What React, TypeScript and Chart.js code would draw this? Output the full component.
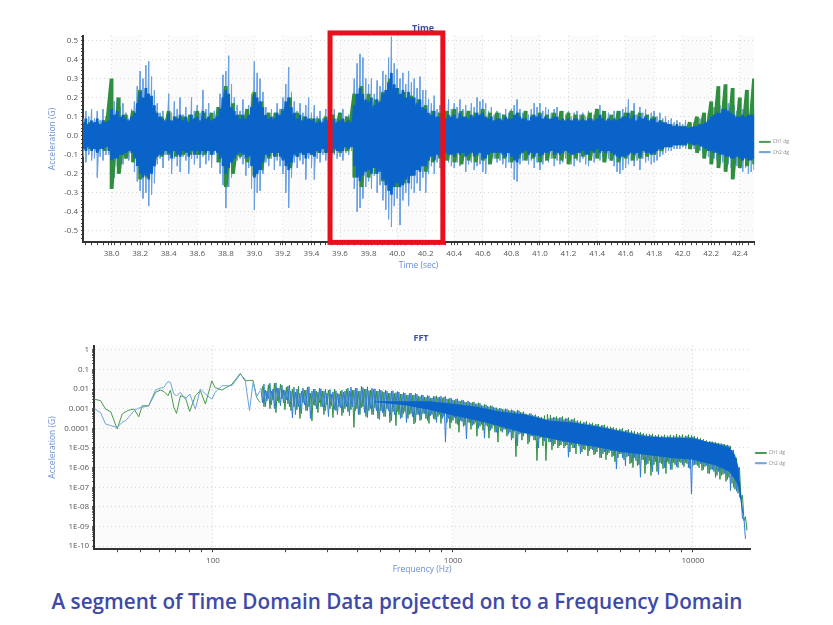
import React, { useEffect, useRef } from "react";
import { Chart, registerables } from "chart.js";

Chart.register(...registerables);

const FONT = '"Open Sans", sans-serif';
const TICK_COLOR = "#555";
const AXIS_TITLE_COLOR = "#6b8cd6";
const TITLE_COLOR = "#3d4fa8";
const GREEN = "#2f8f3f";
const LIGHT_BLUE = "#6ba2e2";
const CORE_BLUE = "#0a63c9";

// ---- Time chart ----
// one value every 0.02 s from 37.80 s
const timeStart = 37.8;
const peakStep = 0.02;
// outer spikes of Ch2
const peakHi = [
  .09,.13,.10,.14,.09,.13,.08,.14,.10,.11,
  .21,.18,.2,.15,.17,.12,.09,.14,.18,.26,
  .34,.3,.37,.39,.31,.24,.17,.12,.13,.09,
  .22,.12,.18,.14,.2,.11,.15,.1,.2,.13,
  .16,.12,.24,.14,.17,.11,.13,.15,.22,.32,
  .34,.42,.27,.2,.16,.13,.19,.12,.16,.22,
  .39,.33,.3,.23,.15,.12,.14,.12,.17,.14,
  .2,.27,.36,.23,.18,.13,.17,.12,.16,.2,
  .12,.16,.1,.13,.09,.14,.11,.12,.14,.09,
  .12,.14,.1,.11,.09,.3,.38,.43,.41,.3,
  .27,.3,.22,.29,.26,.34,.32,.41,.52,.38,
  .35,.3,.33,.27,.34,.28,.3,.25,.31,.24,
  .24,.19,.17,.21,.14,.16,.19,.13,.19,.14,
  .17,.15,.19,.14,.16,.13,.17,.15,.2,.18,
  .19,.17,.13,.15,.11,.13,.12,.11,.14,.12,
  .14,.16,.19,.14,.12,.13,.11,.14,.17,.15,
  .17,.13,.15,.14,.12,.14,.15,.12,.13,.11,
  .13,.1,.12,.13,.11,.12,.1,.13,.12,.11,
  .13,.16,.13,.11,.12,.1,.13,.11,.13,.14,
  .15,.19,.13,.17,.11,.15,.12,.14,.11,.12,
  .13,.1,.12,.09,.1,.08,.09,.07,.08,.07,
  .06,.08,.05,.06,.07,.07,.09,.08,.1,.12,
  .14,.15,.17,.16,.18,.17,.17,.15,.16,.13,
  .13,.14,.13,.15,.14,.14,
];
const peakLo = [
  -.11,-.14,-.1,-.13,-.12,-.22,-.11,-.13,-.1,-.1,
  -.2,-.22,-.16,-.19,-.15,-.12,-.13,-.1,-.19,-.24,
  -.29,-.33,-.3,-.37,-.31,-.25,-.15,-.12,-.17,-.1,
  -.13,-.2,-.12,-.16,-.19,-.11,-.13,-.2,-.12,-.15,
  -.12,-.17,-.11,-.15,-.13,-.17,-.1,-.14,-.2,-.26,
  -.38,-.27,-.22,-.16,-.13,-.12,-.15,-.21,-.17,-.28,
  -.39,-.3,-.29,-.2,-.14,-.16,-.12,-.18,-.13,-.16,
  -.2,-.3,-.38,-.22,-.14,-.17,-.13,-.15,-.23,-.12,
  -.17,-.23,-.12,-.14,-.1,-.13,-.11,-.15,-.1,-.12,
  -.11,-.13,-.09,-.1,-.08,-.28,-.4,-.38,-.33,-.27,
  -.24,-.28,-.21,-.3,-.26,-.34,-.39,-.44,-.48,-.37,
  -.33,-.47,-.34,-.3,-.37,-.28,-.3,-.25,-.29,-.22,
  -.3,-.2,-.16,-.2,-.14,-.17,-.15,-.13,-.14,-.16,
  -.17,-.14,-.16,-.13,-.19,-.15,-.14,-.18,-.16,-.15,
  -.19,-.2,-.15,-.13,-.12,-.14,-.13,-.15,-.17,-.14,
  -.17,-.23,-.24,-.15,-.13,-.12,-.15,-.13,-.17,-.14,
  -.18,-.15,-.13,-.14,-.12,-.16,-.13,-.15,-.14,-.12,
  -.13,-.15,-.16,-.13,-.14,-.12,-.15,-.16,-.12,-.14,
  -.1,-.13,-.11,-.14,-.12,-.13,-.16,-.19,-.2,-.18,
  -.17,-.15,-.13,-.16,-.13,-.18,-.12,-.14,-.13,-.15,
  -.14,-.13,-.11,-.1,-.09,-.08,-.08,-.07,-.07,-.07,
  -.06,-.07,-.05,-.06,-.07,-.06,-.08,-.09,-.1,-.11,
  -.11,-.12,-.13,-.15,-.14,-.16,-.15,-.17,-.18,-.16,
  -.17,-.19,-.17,-.2,-.19,-.18,
];
// solid dark body of Ch2
const midHi = [
  .07,.09,.06,.08,.07,.09,.06,.08,.07,.08,
  .14,.11,.13,.1,.11,.09,.08,.1,.12,.17,
  .23,.2,.25,.22,.21,.16,.12,.1,.09,.08,
  .12,.08,.1,.09,.11,.08,.1,.07,.11,.09,
  .1,.08,.13,.09,.1,.08,.09,.1,.14,.2,
  .24,.22,.15,.13,.11,.09,.11,.09,.11,.15,
  .22,.2,.18,.15,.11,.09,.1,.09,.12,.11,
  .13,.18,.2,.15,.12,.09,.11,.08,.1,.09,
  .08,.09,.07,.08,.07,.09,.08,.08,.09,.07,
  .08,.09,.07,.08,.07,.16,.22,.25,.22,.19,
  .18,.2,.16,.19,.18,.22,.24,.28,.33,.27,
  .25,.22,.24,.2,.23,.2,.2,.17,.19,.15,
  .14,.12,.11,.13,.1,.1,.12,.09,.11,.1,
  .11,.09,.12,.1,.1,.09,.11,.1,.12,.11,
  .12,.1,.09,.1,.08,.09,.09,.08,.1,.09,
  .09,.11,.12,.1,.09,.09,.08,.1,.11,.1,
  .11,.09,.1,.09,.09,.1,.1,.08,.09,.08,
  .09,.08,.09,.09,.08,.09,.08,.09,.09,.08,
  .09,.11,.09,.08,.09,.08,.09,.08,.09,.1,
  .1,.12,.09,.11,.08,.1,.09,.1,.08,.09,
  .09,.07,.08,.07,.07,.06,.06,.05,.06,.05,
  .045,.05,.04,.045,.05,.05,.06,.06,.07,.08,
  .1,.11,.12,.12,.14,.14,.13,.12,.11,.1,
  .1,.11,.1,.11,.11,.11,
];
const midLo = [
  -.07,-.08,-.06,-.08,-.07,-.09,-.07,-.07,-.06,-.08,
  -.13,-.12,-.12,-.1,-.1,-.09,-.08,-.09,-.12,-.16,
  -.2,-.22,-.21,-.23,-.2,-.16,-.11,-.1,-.1,-.08,
  -.09,-.12,-.08,-.1,-.11,-.08,-.09,-.11,-.08,-.1,
  -.08,-.1,-.08,-.09,-.08,-.1,-.08,-.09,-.12,-.16,
  -.2,-.17,-.14,-.12,-.1,-.09,-.1,-.12,-.11,-.16,
  -.22,-.2,-.18,-.14,-.1,-.11,-.09,-.11,-.09,-.11,
  -.13,-.16,-.18,-.14,-.1,-.11,-.09,-.1,-.12,-.09,
  -.1,-.11,-.08,-.09,-.07,-.09,-.08,-.09,-.07,-.08,
  -.08,-.08,-.06,-.07,-.06,-.16,-.22,-.24,-.21,-.19,
  -.18,-.2,-.17,-.2,-.19,-.23,-.26,-.29,-.31,-.27,
  -.25,-.27,-.26,-.23,-.25,-.21,-.21,-.18,-.19,-.16,
  -.16,-.13,-.11,-.13,-.1,-.11,-.1,-.09,-.1,-.1,
  -.11,-.09,-.1,-.09,-.11,-.1,-.09,-.11,-.1,-.09,
  -.12,-.12,-.1,-.09,-.09,-.09,-.09,-.1,-.11,-.09,
  -.11,-.13,-.14,-.1,-.09,-.08,-.1,-.09,-.11,-.09,
  -.11,-.1,-.09,-.09,-.08,-.1,-.09,-.1,-.09,-.08,
  -.09,-.1,-.1,-.09,-.09,-.08,-.1,-.1,-.08,-.09,
  -.07,-.09,-.08,-.09,-.08,-.09,-.1,-.11,-.12,-.11,
  -.11,-.1,-.09,-.1,-.09,-.11,-.08,-.09,-.09,-.1,
  -.09,-.08,-.07,-.07,-.06,-.06,-.06,-.05,-.05,-.05,
  -.045,-.05,-.04,-.045,-.05,-.045,-.055,-.06,-.07,-.08,
  -.08,-.09,-.09,-.1,-.1,-.11,-.11,-.12,-.12,-.11,
  -.12,-.13,-.12,-.13,-.13,-.12,
];
// Ch1, one value every 0.05 s from 37.80 s
const bandStep = 0.05;
const ch1TimeHi = [
  .07,.07,.07,.08,.3,.2,.11,.13,.24,.22,
  .13,.1,.13,.1,.1,.11,.13,.12,.12,.15,
  .26,.17,.11,.14,.23,.18,.12,.12,.14,.2,
  .12,.1,.09,.09,.1,.11,.12,.1,.22,.26,
  .22,.19,.23,.3,.25,.23,.21,.19,.16,.13,
  .12,.13,.14,.13,.13,.12,.14,.12,.12,.11,
  .13,.12,.13,.11,.12,.11,.12,.13,.12,.11,
  .11,.12,.14,.13,.11,.13,.12,.13,.12,.11,
  .1,.08,.06,.05,.05,.07,.1,.12,.18,.26,
  .27,.25,.2,.24,.3,
];
const ch1TimeLo = [
  -.07,-.07,-.08,-.08,-.28,-.2,-.12,-.14,-.23,-.22,
  -.13,-.11,-.1,-.11,-.1,-.1,-.1,-.1,-.1,-.14,
  -.27,-.2,-.11,-.14,-.21,-.18,-.12,-.11,-.12,-.17,
  -.11,-.1,-.1,-.09,-.09,-.09,-.09,-.08,-.22,-.27,
  -.22,-.2,-.24,-.29,-.27,-.25,-.21,-.18,-.19,-.14,
  -.12,-.13,-.14,-.15,-.13,-.14,-.13,-.15,-.12,-.12,
  -.14,-.12,-.13,-.12,-.14,-.13,-.12,-.13,-.15,-.12,
  -.11,-.13,-.12,-.14,-.13,-.14,-.12,-.13,-.12,-.11,
  -.1,-.08,-.06,-.05,-.05,-.07,-.09,-.12,-.15,-.17,
  -.19,-.23,-.17,-.16,-.15,
];
const timeBands = [[38.0,38.2],[38.4,38.6],[38.8,39.0],[39.2,39.4],[39.6,39.8],[40.0,40.2],[40.4,40.6],[40.8,41.0],[41.2,41.4],[41.6,41.8],[42.0,42.2],[42.4,42.5]];
const selection = { from: 39.53, to: 40.32, top: 0.54, bottom: -0.561 };

// ---- FFT chart ----
// low end, separate curves, values as log10(G)
const lowFreq = [32,34,35.7,37.5,39.9,41.9,43.3,44.7,46.9,49.1,50.7,54,57.6,60.4,62.4,65,66.5,68.7,70.5,73.2,76.7,80,84.5,88.6,93,99,102,109,120,130,136,142,147,152,157];
const ch1Low = [-2.51,-2.59,-3.02,-3.15,-4.03,-3.27,-3.15,-3.07,-3.02,-3.41,-2.85,-2.85,-2.17,-2.05,-2.12,-2.34,-2.05,-2.93,-3.24,-2.34,-2.42,-3.14,-2.34,-2.08,-2.76,-1.58,-1.92,-2.05,-1.75,-1.2,-1.58,-1.56,-1.56,-2.42,-2.68];
const ch2Low = [-3,-3.19,-3.78,-3.86,-3.95,-3.69,-3.61,-3.41,-3.1,-2.97,-2.93,-2.85,-2.05,-1.95,-1.92,-1.61,-1.66,-2.25,-2.34,-2.17,-2.51,-2.25,-3.02,-2,-2.25,-2.51,-2.17,-1.83,-1.83,-1.24,-1.49,-3.1,-1.65,-2.4,-2.1];
// dense part, log10(G), one value every 0.0125 decade from 10^2.2 Hz
const denseStartLog = 2.2;
const denseStepLog = 0.0125;
const ch1Hi = [
  -1.85,-2.05,-1.78,-2.1,-1.7,-1.95,-1.75,-2.05,-1.9,-1.8,
  -2.0,-2.15,-1.85,-2.1,-2.05,-1.9,-2.2,-2.0,-2.1,-1.95,
  -2.1,-2.0,-2.05,-2.25,-2.0,-2.2,-2.1,-2.15,-2.0,-2.1,
  -2.05,-1.95,-2.1,-1.85,-2.0,-1.88,-2.05,-2.0,-2.1,-2.0,
  -2.12,-2.05,-2.2,-2.1,-2.22,-2.12,-2.25,-2.18,-2.3,-2.22,
  -2.3,-2.22,-2.35,-2.3,-2.4,-2.32,-2.45,-2.36,-2.34,-2.4,
  -2.45,-2.38,-2.5,-2.48,-2.58,-2.5,-2.62,-2.58,-2.68,-2.66,
  -2.68,-2.75,-2.7,-2.82,-2.78,-2.88,-2.85,-2.92,-2.95,-2.98,
  -3.02,-3.0,-3.08,-3.05,-3.12,-3.06,-3.18,-3.15,-3.28,-3.25,
  -3.32,-3.3,-3.38,-3.42,-3.35,-3.28,-3.32,-3.42,-3.4,-3.46,
  -3.4,-3.5,-3.45,-3.55,-3.5,-3.6,-3.62,-3.7,-3.65,-3.72,
  -3.72,-3.8,-3.78,-3.85,-3.82,-3.9,-3.92,-3.95,-4.0,-4.05,
  -4.0,-4.1,-4.05,-4.12,-4.15,-4.2,-4.2,-4.25,-4.28,-4.3,
  -4.28,-4.35,-4.32,-4.38,-4.33,-4.38,-4.33,-4.36,-4.3,-4.34,
  -4.32,-4.38,-4.32,-4.36,-4.4,-4.45,-4.5,-4.55,-4.62,-4.66,
  -4.68,-4.7,-4.74,-4.78,-4.8,-4.84,-4.9,-5.1,-5.5,-6.0,
  -7.4,-8.5,
];
const ch1Lo = [
  -2.9,-2.6,-3.0,-2.55,-3.2,-2.7,-2.5,-3.05,-2.75,-3.1,
  -2.9,-3.05,-3.5,-2.7,-3.1,-2.9,-3.62,-2.85,-3.2,-2.9,
  -3.3,-2.8,-3.0,-3.45,-3.1,-2.9,-3.35,-3.0,-3.15,-3.05,
  -3.95,-3.0,-3.3,-2.9,-3.4,-3.1,-3.3,-2.95,-3.5,-3.1,
  -3.4,-3.0,-3.7,-3.15,-3.86,-3.3,-3.45,-3.15,-3.5,-3.25,
  -3.78,-3.3,-3.6,-3.25,-3.5,-3.75,-3.3,-3.55,-3.4,-3.75,
  -3.4,-3.7,-4.0,-3.6,-3.75,-4.2,-3.65,-3.85,-3.7,-4.05,
  -3.8,-4.4,-3.9,-4.1,-3.85,-4.5,-4.0,-4.2,-4.7,-4.15,
  -4.05,-4.4,-4.2,-4.5,-5.44,-4.3,-4.6,-4.25,-4.8,-4.4,
  -4.6,-5.64,-4.5,-4.9,-5.64,-4.7,-5.1,-4.8,-5.0,-4.85,
  -5.0,-4.85,-5.2,-5.0,-5.3,-4.9,-5.2,-5.1,-5.4,-5.05,
  -5.35,-5.2,-5.5,-5.3,-5.6,-5.25,-5.45,-5.7,-5.5,-5.3,
  -5.6,-5.45,-5.8,-6.0,-5.65,-5.85,-5.6,-6.3,-5.8,-6.4,
  -5.85,-6.2,-5.75,-6.05,-6.3,-5.8,-6.1,-5.85,-6.0,-5.75,
  -5.95,-5.8,-6.05,-5.9,-5.85,-6.0,-6.15,-5.95,-6.3,-6.1,
  -6.2,-6.4,-6.6,-6.35,-6.7,-6.5,-6.8,-7.1,-7.3,-7.6,
  -8.7,-9.2,
];
const ch2Hi = [
  -1.95,-1.75,-2.1,-1.7,-2.0,-1.68,-1.95,-1.8,-2.05,-1.85,
  -2.1,-1.9,-2.0,-2.2,-1.95,-2.05,-1.88,-2.1,-2.0,-2.15,
  -1.98,-2.1,-2.2,-2.02,-2.15,-2.08,-2.25,-2.05,-2.1,-1.95,
  -1.9,-2.05,-1.95,-2.1,-1.92,-2.0,-2.08,-1.95,-1.98,-2.1,
  -2.05,-2.15,-2.1,-2.2,-2.08,-2.18,-2.15,-2.25,-2.2,-2.3,
  -2.2,-2.3,-2.25,-2.38,-2.3,-2.42,-2.35,-2.45,-2.38,-2.42,
  -2.36,-2.4,-2.5,-2.45,-2.55,-2.5,-2.6,-2.55,-2.65,-2.6,
  -2.7,-2.65,-2.75,-2.72,-2.85,-2.8,-2.9,-2.85,-2.95,-3.0,
  -2.98,-3.05,-3.02,-3.1,-3.08,-3.15,-3.1,-3.2,-3.25,-3.3,
  -3.25,-3.35,-3.4,-3.45,-3.5,-3.55,-3.5,-3.48,-3.45,-3.5,
  -3.45,-3.55,-3.5,-3.6,-3.55,-3.65,-3.7,-3.75,-3.7,-3.8,
  -3.78,-3.85,-3.8,-3.9,-3.85,-3.95,-4.0,-3.98,-4.05,-4.1,
  -4.05,-4.15,-4.1,-4.2,-4.22,-4.28,-4.25,-4.3,-4.35,-4.38,
  -4.35,-4.42,-4.4,-4.45,-4.42,-4.45,-4.42,-4.45,-4.42,-4.43,
  -4.42,-4.45,-4.4,-4.45,-4.43,-4.5,-4.55,-4.6,-4.65,-4.7,
  -4.68,-4.72,-4.75,-4.78,-4.8,-4.85,-4.88,-5.1,-5.5,-6.0,
  -7.5,-8.6,
];
const ch2Lo = [
  -2.7,-2.9,-2.5,-2.8,-3.0,-2.6,-2.85,-2.7,-2.55,-2.9,
  -3.47,-3.3,-2.9,-3.25,-2.8,-3.1,-3.5,-2.8,-3.0,-2.7,
  -2.9,-3.1,-3.4,-2.85,-3.05,-3.3,-2.95,-3.2,-2.9,-3.35,
  -2.9,-3.1,-3.3,-2.95,-3.2,-3.45,-3.0,-3.3,-3.1,-3.55,
  -3.2,-3.4,-3.1,-3.6,-3.3,-3.15,-3.5,-3.25,-3.7,-3.3,
  -3.4,-3.7,-3.3,-3.55,-3.25,-3.6,-3.35,-3.5,-3.7,-3.3,
  -3.5,-4.7,-3.5,-3.7,-3.45,-3.8,-3.6,-3.9,-4.54,-3.7,
  -3.85,-3.7,-4.0,-3.8,-4.5,-3.9,-4.1,-3.85,-4.2,-3.95,
  -4.2,-4.05,-4.3,-4.6,-4.15,-4.9,-4.25,-4.4,-4.2,-4.7,
  -4.4,-4.6,-5.0,-4.45,-4.65,-4.5,-4.7,-4.9,-4.6,-4.9,
  -4.7,-4.9,-5.47,-4.85,-5.0,-4.75,-5.3,-5.05,-4.9,-5.15,
  -5.1,-5.3,-5.0,-5.5,-5.2,-5.35,-5.15,-5.4,-6.07,-5.3,
  -5.5,-5.9,-5.4,-5.75,-5.5,-5.9,-6.49,-5.6,-5.85,-5.65,
  -6.2,-5.7,-6.35,-5.8,-6.0,-5.7,-6.1,-5.75,-5.95,-5.7,
  -5.85,-5.75,-6.0,-7.34,-5.85,-5.9,-5.8,-6.1,-5.9,-6.3,
  -6.1,-6.5,-6.2,-6.4,-6.3,-6.6,-7.17,-7.0,-7.2,-7.5,
  -8.6,-9.63,
];
// solid band of the dense part
const coreFreq = [470,631,794,1000,1259,1585,1995,2512,3162,3981,5012,6310,7943,10000,12589,14125,14962,15488,15849,16218];
const fftCoreHi = [-2.62,-2.62,-2.62,-2.75,-2.9,-3.15,-3.3,-3.6,-3.7,-3.9,-4.15,-4.4,-4.48,-4.5,-4.8,-4.95,-5.35,-6.0,-7.3,-8.4];
const fftCoreLo = [-2.66,-2.82,-3.05,-3.35,-3.6,-3.9,-4.25,-4.5,-4.75,-4.95,-5.2,-5.35,-5.5,-5.6,-5.9,-6.2,-6.6,-7.0,-7.8,-8.6];
const fftBands = [[32,100],[1000,10000]];

const fftYTicks = [1,0.1,0.01,0.001,0.0001,1e-5,1e-6,1e-7,1e-8,1e-9,1e-10];
const fftYLabels = ["1","0.1","0.01","0.001","0.0001","1E-05","1E-06","1E-07","1E-08","1E-09","1E-10"];
const fftXLabelled = [100,1000,10000];
const fftXMinor = [40,50,60,70,80,90,200,300,400,500,600,700,800,900,2000,3000,4000,5000,6000,7000,8000,9000];

const legendFilter = (item: any) => item.text !== "";
const legendSort = (a: any, b: any) => a.text.localeCompare(b.text);

// line going up and down between two envelopes
function zigzag(xs: number[], hi: number[], lo: number[]) {
  const pts: { x: number; y: number }[] = [];
  xs.forEach((x, i) => {
    pts.push({ x, y: hi[i] });
    pts.push({ x, y: lo[i] });
  });
  return pts;
}
// same, but the low points sit between the high points (log x axis)
function triangles(hi: number[], lo: number[], startLog: number, stepLog: number) {
  const pts: { x: number; y: number }[] = [];
  hi.forEach((v, i) => {
    pts.push({ x: Math.pow(10, startLog + i * stepLog), y: v });
    pts.push({ x: Math.pow(10, startLog + (i + 0.5) * stepLog), y: lo[i] });
  });
  return pts;
}
const toPts = (xs: number[], ys: number[]) => xs.map((x, i) => ({ x, y: ys[i] }));
const pow10 = (ys: number[]) => ys.map((v) => Math.pow(10, v));

const peakTimes = peakHi.map((_, i) => timeStart + i * peakStep);
const bandTimes = ch1TimeHi.map((_, i) => timeStart + i * bandStep);

const bandsPlugin = (bands: number[][], color: string) => ({
  id: "shadedBands",
  beforeDraw(chart: any) {
    const { ctx, chartArea, scales } = chart;
    ctx.save();
    ctx.fillStyle = color;
    for (const [a, b] of bands) {
      const x0 = scales.x.getPixelForValue(a);
      const x1 = scales.x.getPixelForValue(b);
      ctx.fillRect(x0, chartArea.top, x1 - x0, chartArea.height);
    }
    ctx.restore();
  },
});

const selectionPlugin = {
  id: "selectionBox",
  afterDatasetsDraw(chart: any) {
    const { ctx, scales } = chart;
    const x0 = scales.x.getPixelForValue(selection.from);
    const x1 = scales.x.getPixelForValue(selection.to);
    const y0 = scales.y.getPixelForValue(selection.top);
    const y1 = scales.y.getPixelForValue(selection.bottom);
    ctx.save();
    ctx.strokeStyle = "#e8101c";
    ctx.lineWidth = 5;
    ctx.strokeRect(x0, y0, x1 - x0, y1 - y0);
    ctx.restore();
  },
};

const line = (label: string, data: any[], color: string, width: number, extra: any = {}) => ({
  label,
  data,
  borderColor: color,
  backgroundColor: color,
  borderWidth: width,
  borderJoinStyle: "bevel",
  pointRadius: 0,
  tension: 0,
  fill: false,
  ...extra,
});

const commonPlugins = (title: string, legendTitle: any = { display: false }) => ({
  title: {
    display: true,
    text: title,
    color: TITLE_COLOR,
    font: { family: FONT, size: 9, weight: "bold" as const },
    padding: { top: 0, bottom: 2 },
  },
  legend: {
    position: "right" as const,
    title: legendTitle,
    labels: {
      boxWidth: 11,
      boxHeight: 1,
      padding: 5.25,
      color: "#888",
      font: { family: FONT, size: 5 },
      filter: legendFilter,
      sort: legendSort,
    },
  },
  tooltip: { enabled: false },
});

const axisTitle = (text: string, padding: any) => ({
  display: true,
  text,
  color: AXIS_TITLE_COLOR,
  font: { family: FONT, size: 8.5 },
  padding,
});

function timeConfig(): any {
  const xMajor = [38.0,38.2,38.4,38.6,38.8,39.0,39.2,39.4,39.6,39.8,40.0,40.2,40.4,40.6,40.8,41.0,41.2,41.4,41.6,41.8,42.0,42.2,42.4];
  const yMajor = [-0.5,-0.4,-0.3,-0.2,-0.1,0,0.1,0.2,0.3,0.4,0.5];
  return {
    type: "line",
    data: {
      // first dataset is painted last
      datasets: [
        line("", zigzag(peakTimes, midHi, midLo), CORE_BLUE, 2.7),
        line("", zigzag(bandTimes, ch1TimeHi, ch1TimeLo), GREEN, 3.8),
        line("", zigzag(peakTimes, peakHi, peakLo), LIGHT_BLUE, 0.9),
        line("Ch1 dg", [], "#4a9a50", 1),
        line("Ch2 dg", [], LIGHT_BLUE, 1),
      ],
    },
    options: {
      responsive: false,
      animation: false,
      layout: { padding: { left: 47, right: 34, top: 23, bottom: 4 } },
      plugins: commonPlugins("Time"),
      scales: {
        x: {
          type: "linear",
          min: 37.8,
          max: 42.5,
          afterBuildTicks(axis: any) {
            const t = [];
            for (let i = 0; i <= 117; i++) t.push({ value: 37.82 + i * 0.04 });
            axis.ticks = t.concat(xMajor.map((value) => ({ value, major: true }))).sort((a: any, b: any) => a.value - b.value);
          },
          ticks: {
            autoSkip: false,
            maxRotation: 0,
            color: TICK_COLOR,
            font: { family: FONT, size: 8 },
            padding: 4,
            callback: (v: number, i: number, ticks: any[]) => (ticks[i].major ? v.toFixed(1) : ""),
          },
          grid: {
            color: (c: any) => (c.tick && c.tick.major ? "#d8d8d8" : "transparent"),
            tickColor: "#444",
            tickLength: 3,
          },
          border: { color: "#333", width: 2, dash: [1, 3] },
          title: axisTitle("Time (sec)", { top: -2, bottom: 0 }),
        },
        y: {
          type: "linear",
          min: -0.56,
          max: 0.525,
          afterBuildTicks(axis: any) {
            const t = [];
            for (let i = 0; i < 54; i++) t.push({ value: -0.54 + i * 0.02 });
            axis.ticks = t
              .filter((k) => !yMajor.some((m) => Math.abs(m - k.value) < 0.001))
              .concat(yMajor.map((value) => ({ value, major: true })))
              .sort((a: any, b: any) => a.value - b.value);
          },
          ticks: {
            autoSkip: false,
            color: TICK_COLOR,
            font: { family: FONT, size: 8 },
            padding: 3,
            callback: (v: number, i: number, ticks: any[]) => (ticks[i].major ? v.toFixed(1) : ""),
          },
          grid: {
            color: (c: any) => (c.tick && c.tick.major ? "#d8d8d8" : "transparent"),
            tickColor: "#444",
            tickLength: 2,
          },
          border: { color: "#333", width: 2, dash: [1, 3] },
          title: axisTitle("Acceleration (G)", { top: 0, bottom: 4 }),
        },
      },
    },
    plugins: [bandsPlugin(timeBands, "#fbfbfb"), selectionPlugin],
  };
}

function fftConfig(): any {
  return {
    type: "line",
    data: {
      datasets: [
        line("", toPts(coreFreq, pow10(fftCoreHi)), CORE_BLUE, 0, { fill: "+1" }),
        line("", toPts(coreFreq, pow10(fftCoreLo)), CORE_BLUE, 0),
        line("", triangles(pow10(ch2Hi), pow10(ch2Lo), denseStartLog, denseStepLog), "#2f7bd6", 1),
        line("", triangles(pow10(ch1Hi), pow10(ch1Lo), denseStartLog + denseStepLog / 2, denseStepLog), GREEN, 1),
        line("Ch2 dg", toPts(lowFreq, pow10(ch2Low)), "#6aa4dc", 1),
        line("Ch1 dg", toPts(lowFreq, pow10(ch1Low)), "#4a9a50", 1),
      ],
    },
    options: {
      responsive: false,
      animation: false,
      layout: { padding: { left: 47, right: 38, top: 5, bottom: 4 } },
      plugins: commonPlugins("FFT", { display: true, text: " ", font: { size: 1 }, padding: { top: 0, bottom: 7 } }),
      scales: {
        x: {
          type: "logarithmic",
          min: 32,
          max: 17300,
          afterBuildTicks(axis: any) {
            axis.ticks = fftXMinor
              .map((value) => ({ value }))
              .concat(fftXLabelled.map((value) => ({ value, major: true } as any)))
              .sort((a, b) => a.value - b.value);
          },
          ticks: {
            autoSkip: false,
            maxRotation: 0,
            color: TICK_COLOR,
            font: { family: FONT, size: 8 },
            padding: 4,
            callback: (v: number) => (fftXLabelled.includes(v) ? String(v) : ""),
          },
          grid: {
            color: (c: any) => (c.tick && fftXLabelled.includes(c.tick.value) ? "#d8d8d8" : "transparent"),
            tickColor: "#444",
            tickLength: 3,
          },
          border: { color: "#333", width: 2, dash: [1, 3] },
          title: axisTitle("Frequency (Hz)", { top: -5, bottom: 0 }),
        },
        y: {
          type: "logarithmic",
          min: 7e-11,
          max: 1.6,
          afterBuildTicks(axis: any) {
            const minor: any[] = [];
            fftYTicks.slice(1).forEach((base) => {
              [2, 3, 4, 5, 6, 7, 8, 9].forEach((m) => minor.push({ value: base * m }));
            });
            axis.ticks = minor
              .concat(fftYTicks.map((value) => ({ value, major: true })))
              .sort((a, b) => a.value - b.value);
          },
          ticks: {
            autoSkip: false,
            color: TICK_COLOR,
            font: { family: FONT, size: 8 },
            padding: 3,
            callback: (v: number, i: number, ticks: any[]) => {
              if (!ticks[i].major) return "";
              return fftYLabels[fftYTicks.indexOf(v)];
            },
          },
          grid: {
            color: (c: any) => (c.tick && c.tick.major ? "#d8d8d8" : "transparent"),
            tickColor: "#444",
            tickLength: 2,
          },
          border: { color: "#333", width: 2, dash: [1, 3] },
          title: axisTitle("Acceleration (G)", { top: 0, bottom: 4 }),
        },
      },
    },
    plugins: [bandsPlugin(fftBands, "#fbfbfb")],
  };
}

export default function App() {
  const timeRef = useRef<HTMLCanvasElement>(null);
  const fftRef = useRef<HTMLCanvasElement>(null);

  useEffect(() => {
    const a = new Chart(timeRef.current!, timeConfig());
    const b = new Chart(fftRef.current!, fftConfig());
    return () => {
      a.destroy();
      b.destroy();
    };
  }, []);

  return (
    <div style={{ position: "absolute", left: 0, top: 0, width: 833, height: 625, overflow: "hidden", background: "#fff" }}>
      <canvas ref={timeRef} width={833} height={275} style={{ position: "absolute", left: 0, top: 0, filter: "blur(0.4px)" }} />
      <canvas ref={fftRef} width={833} height={251} style={{ position: "absolute", left: 0, top: 328, filter: "blur(0.4px)" }} />
      <div
        style={{
          position: "absolute",
          left: 0,
          top: 587,
          width: 794,
          textAlign: "center",
          color: "#3d4aa8",
          fontFamily: FONT,
          fontWeight: 600,
          fontSize: 20.7,
          lineHeight: "28px",
          whiteSpace: "nowrap",
        }}
      >
        A segment of Time Domain Data projected on to a Frequency Domain
      </div>
    </div>
  );
}
